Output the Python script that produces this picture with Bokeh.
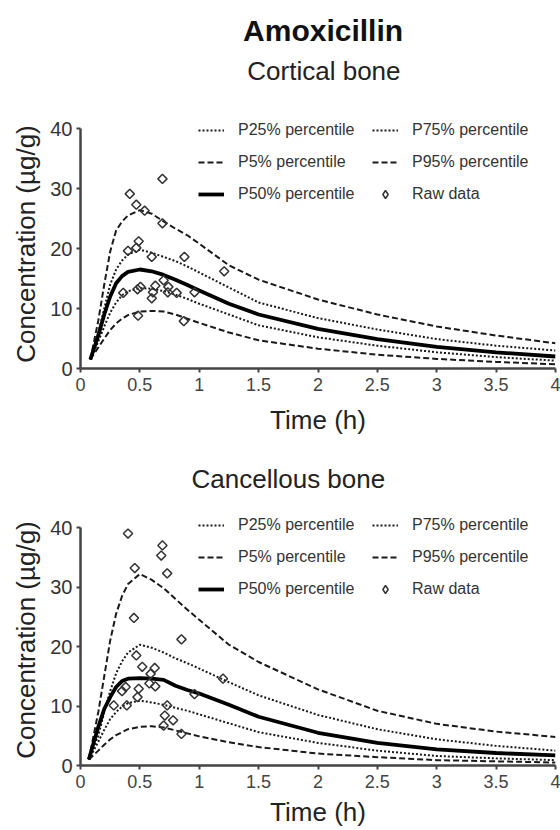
import numpy as np
from bokeh.plotting import figure
from bokeh.models import Range1d, FixedTicker, CustomJSTickFormatter, Legend, LegendItem
from bokeh.core.properties import value
from bokeh.layouts import column
from bokeh.embed import file_html
from bokeh.resources import INLINE

FONT = "Liberation Sans"
MAIN_TITLE = "Amoxicillin"
PANEL_TITLES = ["Cortical bone", "Cancellous bone"]
X_TICKS = [0, 0.5, 1, 1.5, 2, 2.5, 3, 3.5, 4]
Y_TICKS = [0, 10, 20, 30, 40]
X_LABEL = "Time (h)"
Y_LABEL = "Concentration (µg/g)"

# ---- Cortical bone: simulated percentiles ----
cort_time = [0.083, 0.15, 0.2, 0.25, 0.3, 0.35, 0.4, 0.5, 0.6, 0.7, 0.8, 0.9, 1.0, 1.25, 1.5, 2.0, 2.5, 3.0, 3.5, 4.0]
cort_p95 = [1.5, 8.0, 14.0, 19.5, 23.0, 24.5, 25.5, 26.4, 25.8, 24.5, 23.3, 22.2, 20.8, 17.2, 14.8, 11.5, 9.0, 7.0, 5.5, 4.2]
cort_p75 = [1.5, 6.0, 10.0, 14.0, 16.5, 18.0, 19.0, 19.8, 19.3, 18.6, 17.9, 17.0, 16.0, 13.5, 11.0, 8.4, 6.5, 4.9, 3.8, 3.0]
cort_p50 = [1.5, 5.5, 9.0, 12.0, 14.2, 15.4, 16.1, 16.5, 16.2, 15.6, 14.8, 13.9, 13.0, 10.8, 9.0, 6.6, 4.9, 3.6, 2.7, 2.0]
cort_p25 = [1.5, 4.5, 7.0, 9.3, 11.0, 12.2, 12.9, 13.4, 13.3, 12.9, 12.3, 11.6, 10.8, 9.0, 7.2, 5.2, 3.8, 2.7, 1.9, 1.3]
cort_p5 = [1.5, 3.5, 5.0, 6.4, 7.5, 8.3, 8.9, 9.5, 9.6, 9.5, 9.0, 8.3, 7.6, 6.0, 4.7, 3.3, 2.3, 1.6, 1.1, 0.7]
# ---- Cortical bone: raw data ----
cort_raw_t = [0.415, 0.47, 0.54, 0.69, 0.69, 0.875, 1.21, 0.40, 0.47, 0.49, 0.60, 0.36, 0.505, 0.60, 0.61, 0.63, 0.70, 0.74, 0.735, 0.81, 0.96, 0.485, 0.87, 0.48]
cort_raw_c = [29.1, 27.3, 26.3, 31.6, 24.2, 18.6, 16.2, 19.6, 20.1, 21.2, 18.6, 12.6, 13.6, 11.7, 12.7, 13.8, 14.7, 13.6, 12.7, 12.6, 12.7, 8.8, 7.9, 13.2]

# ---- Cancellous bone: simulated percentiles ----
canc_time = [0.07, 0.15, 0.2, 0.25, 0.3, 0.35, 0.4, 0.5, 0.6, 0.7, 0.8, 0.9, 1.0, 1.25, 1.5, 2.0, 2.5, 3.0, 3.5, 4.0]
canc_p95 = [1.0, 9.0, 15.0, 21.0, 25.5, 28.5, 30.5, 32.2, 31.2, 29.8, 28.0, 26.2, 24.5, 20.3, 17.4, 12.8, 9.2, 7.0, 5.7, 4.8]
canc_p75 = [1.0, 5.0, 9.0, 12.5, 15.5, 17.5, 19.0, 20.3, 19.8, 19.0, 18.0, 17.2, 16.3, 14.0, 11.8, 8.5, 6.1, 4.4, 3.3, 2.5]
canc_p50 = [1.0, 6.5, 9.5, 11.5, 13.2, 14.2, 14.6, 14.7, 14.6, 14.4, 13.4, 12.7, 12.1, 10.2, 8.2, 5.5, 3.8, 2.7, 2.1, 1.7]
canc_p25 = [1.0, 4.0, 6.0, 7.8, 9.0, 9.9, 10.5, 10.9, 10.6, 10.2, 9.7, 9.2, 8.6, 7.1, 5.6, 3.8, 2.5, 1.6, 1.2, 0.9]
canc_p5 = [1.0, 2.5, 3.5, 4.4, 5.1, 5.6, 6.1, 6.5, 6.6, 6.4, 5.9, 5.4, 4.9, 3.9, 3.1, 2.0, 1.4, 0.9, 0.7, 0.5]
# ---- Cancellous bone: raw data ----
canc_raw_t = [0.40, 0.457, 0.69, 0.68, 0.73, 0.45, 0.85, 0.47, 0.52, 0.625, 0.59, 1.20, 0.58, 0.63, 0.38, 0.49, 0.28, 0.39, 0.48, 0.96, 0.73, 0.71, 0.78, 0.70, 0.85, 0.35]
canc_raw_c = [39.0, 33.2, 37.0, 35.3, 32.3, 24.8, 21.2, 18.5, 16.6, 16.4, 15.4, 14.6, 13.8, 13.3, 13.2, 12.9, 10.1, 10.1, 11.5, 12.0, 10.1, 8.4, 7.6, 6.7, 5.3, 12.5]

LEGEND_LABELS = ["P25% percentile", "P5% percentile", "P50% percentile",
                 "P75% percentile", "P95% percentile", "Raw data"]

INK = "#1a1a1a"

# ---------------- header with the two top titles ----------------
HEAD_H = 95
head = figure(width=560, height=HEAD_H, output_backend="svg", toolbar_location=None,
              x_range=Range1d(0, 560), y_range=Range1d(HEAD_H, 0),
              min_border=0, min_border_left=0, min_border_right=0,
              min_border_top=0, min_border_bottom=0)
head.axis.visible = False
head.grid.visible = False
head.outline_line_color = None
head.text(x=[286], y=[30], text=[MAIN_TITLE], text_font=value(FONT), text_font_size="30px",
          text_font_style="bold", text_align="center", text_baseline="middle", text_color="#111111")
head.text(x=[287], y=[70], text=[PANEL_TITLES[0]], text_font=value(FONT), text_font_size="26px",
          text_align="center", text_baseline="middle", text_color="#222222")


def make_panel(height, border_left, border_top, border_bottom, y_end, xlabel_standoff,
               t, p95, p75, p50, p25, p5, raw_t, raw_c, legend_vy):
    p = figure(width=560, height=height, output_backend="svg", toolbar_location=None,
               x_range=Range1d(0, 4), y_range=Range1d(0, y_end),
               min_border_left=border_left, min_border_right=5,
               min_border_top=border_top, min_border_bottom=border_bottom)
    p.outline_line_color = None
    p.xgrid.visible = False
    p.ygrid.visible = False
    p.background_fill_color = "white"
    p.border_fill_color = "white"

    for ax, ticks in ((p.xaxis[0], X_TICKS), (p.yaxis[0], Y_TICKS)):
        ax.ticker = FixedTicker(ticks=ticks)
        ax.formatter = CustomJSTickFormatter(code="return String(tick);")
        ax.axis_line_color = "#444444"
        ax.axis_line_width = 2.5
        ax.major_tick_line_color = "#444444"
        ax.major_tick_line_width = 2
        ax.major_tick_out = 4
        ax.major_tick_in = 0
        ax.minor_tick_line_color = None
        ax.major_label_text_font = FONT
        ax.axis_label_text_font = FONT
        ax.axis_label_text_font_style = "normal"
        ax.axis_label_text_color = "#222222"
        ax.axis_label_text_font_size = "26px"
    p.yaxis[0].bounds = (0, 40)
    p.xaxis[0].major_label_text_font_size = "18px"
    p.xaxis[0].major_label_text_color = "#444444"
    p.xaxis[0].major_label_standoff = 5
    p.xaxis[0].axis_label_standoff = xlabel_standoff
    p.yaxis[0].major_label_text_font_size = "20px"
    p.yaxis[0].major_label_text_color = "#333333"
    p.yaxis[0].major_label_standoff = 4
    p.yaxis[0].axis_label_standoff = 6
    p.xaxis[0].axis_label = X_LABEL
    p.yaxis[0].axis_label = Y_LABEL

    r25 = p.line(t, p25, line_color=INK, line_width=2, line_dash="2 2")
    r75 = p.line(t, p75, line_color=INK, line_width=2, line_dash="2 2")
    r5 = p.line(t, p5, line_color=INK, line_width=2, line_dash="6 3")
    r95 = p.line(t, p95, line_color=INK, line_width=2, line_dash="6 3")
    r50 = p.line(t, p50, line_color="#000000", line_width=3.8)
    p.scatter(raw_t, raw_c, marker="square", angle=np.pi / 4, size=6.5,
              line_color="#333333", line_width=1.5, fill_alpha=0)
    # legend-only glyph for the raw data: a single NaN row, so nothing is drawn in the plot
    rraw = p.scatter([np.nan], [np.nan], marker="diamond", size=10,
                     line_color="#333333", line_width=1.5, fill_alpha=0)

    cols = [([r25], [r5], [r50]), ([r75], [r95], [rraw])]
    xs = [118, 292]
    for ci, (col_items, lx) in enumerate(zip(cols, xs)):
        items = [LegendItem(label=LEGEND_LABELS[ci * 3 + k], renderers=col_items[k]) for k in range(3)]
        lg = Legend(items=items, location=(lx, legend_vy), orientation="vertical",
                    border_line_alpha=0, background_fill_alpha=0,
                    label_text_font=FONT, label_text_font_size="16px", label_text_color="#333333",
                    label_text_baseline="middle",
                    glyph_width=26, glyph_height=20, label_height=20, label_standoff=14,
                    spacing=12, padding=0, margin=0)
        p.add_layout(lg)
    return p


p1 = make_panel(345, 80, 24, 72, 41.5, 11, cort_time, cort_p95, cort_p75, cort_p50, cort_p25, cort_p5,
                cort_raw_t, cort_raw_c, 164)

p2 = make_panel(390, 78, 74, 65, 42.2, 6, canc_time, canc_p95, canc_p75, canc_p50, canc_p25, canc_p5,
                canc_raw_t, canc_raw_c, 166)
p2.title.text = PANEL_TITLES[1]
p2.title.align = "left"
p2.title.offset = 111
p2.title.standoff = 39
p2.title.vertical_align = "middle"
p2.title.text_font = FONT
p2.title.text_font_size = "26px"
p2.title.text_font_style = "normal"
p2.title.text_color = "#222222"

layout = column(head, p1, p2, spacing=0)
open("out.html", "w").write(file_html(layout, INLINE))
